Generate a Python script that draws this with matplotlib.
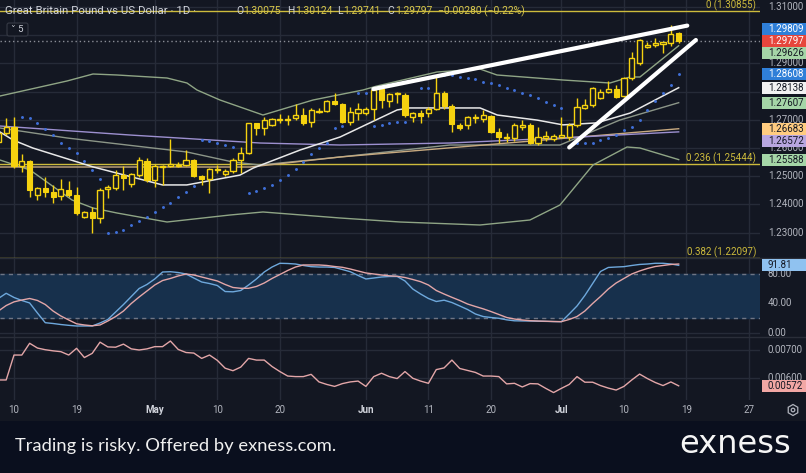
import matplotlib
matplotlib.use('Agg')
import matplotlib.pyplot as plt
import numpy as np
from matplotlib.patches import Rectangle, FancyBboxPatch, RegularPolygon, Circle

# ---------------- data ----------------
bar_idx = list(range(-2, 86))
opens = [1.2622, 1.2654, 1.2676, 1.2536, 1.2554, 1.2433, 1.2458, 1.2445, 1.2430, 1.2451,
         1.2432, 1.2354, 1.2374, 1.2351, 1.2454, 1.2457, 1.2504, 1.2471, 1.2504, 1.2555,
         1.2487, 1.2532, 1.2536, 1.2536, 1.2540, 1.2557, 1.2501, 1.2489, 1.2522, 1.2508,
         1.2520, 1.2557, 1.2581, 1.2688, 1.2670, 1.2682, 1.2699, 1.2699, 1.2705, 1.2717,
         1.2691, 1.2729, 1.2732, 1.2768, 1.2755, 1.2693, 1.2723, 1.2723, 1.2739, 1.2808,
         1.2767, 1.2790, 1.2788, 1.2709, 1.2725, 1.2723, 1.2738, 1.2794, 1.2750, 1.2682,
         1.2682, 1.2705, 1.2702, 1.2713, 1.2658, 1.2637, 1.2634, 1.2676, 1.2682, 1.2619,
         1.2637, 1.2631, 1.2640, 1.2640, 1.2682, 1.2743, 1.2752, 1.2776, 1.2800, 1.2809,
         1.2784, 1.2847, 1.2900, 1.2957, 1.2965, 1.2969, 1.2971, 1.30075]
highs = [1.2671, 1.2705, 1.2711, 1.2579, 1.2557, 1.2463, 1.2496, 1.2469, 1.2489, 1.2483,
         1.2463, 1.23777, 1.2392, 1.2457, 1.2469, 1.2522, 1.2536, 1.2510, 1.2569, 1.2563,
         1.2543, 1.2540, 1.2631, 1.2551, 1.2593, 1.2560, 1.2504, 1.2528, 1.2540, 1.2524,
         1.2563, 1.2605, 1.2690, 1.2690, 1.2709, 1.2705, 1.2721, 1.2717, 1.2756, 1.2741,
         1.2741, 1.2741, 1.2770, 1.2796, 1.2758, 1.2746, 1.2761, 1.2746, 1.2812, 1.2812,
         1.2796, 1.2800, 1.2794, 1.2729, 1.2735, 1.2746, 1.2853, 1.2803, 1.2755, 1.2688,
         1.2713, 1.2721, 1.2735, 1.2717, 1.2670, 1.2652, 1.2688, 1.2699, 1.2688, 1.2673,
         1.2661, 1.2650, 1.2709, 1.2688, 1.2776, 1.2773, 1.2815, 1.2808, 1.2839, 1.2823,
         1.2853, 1.2941, 1.2985, 1.2977, 1.2989, 1.2977, 1.3036, 1.30124]
lows = [1.2611, 1.2646, 1.2528, 1.2516, 1.2427, 1.2416, 1.2427, 1.2406, 1.2416, 1.2427,
        1.2362, 1.2351, 1.2300, 1.2333, 1.2422, 1.2451, 1.2451, 1.2463, 1.2496, 1.2481,
        1.2463, 1.2469, 1.2532, 1.2532, 1.2536, 1.2496, 1.2469, 1.2441, 1.2512, 1.2501,
        1.2512, 1.2510, 1.2579, 1.2646, 1.2646, 1.2678, 1.2688, 1.2682, 1.2699, 1.2682,
        1.2676, 1.2723, 1.2729, 1.2752, 1.2688, 1.2682, 1.2699, 1.2717, 1.2699, 1.2741,
        1.2746, 1.2761, 1.2711, 1.2693, 1.2688, 1.2709, 1.2735, 1.2737, 1.2658, 1.2664,
        1.2666, 1.2688, 1.2693, 1.2652, 1.2619, 1.2622, 1.2626, 1.2664, 1.2614, 1.2611,
        1.2626, 1.2626, 1.2634, 1.2628, 1.2676, 1.2737, 1.2746, 1.2773, 1.2794, 1.2776,
        1.2780, 1.2841, 1.2894, 1.2954, 1.2957, 1.2936, 1.2962, 1.29741]
closes = [1.2654, 1.2673, 1.2536, 1.2554, 1.2451, 1.2457, 1.2445, 1.2427, 1.2454, 1.2433,
          1.2371, 1.2373, 1.2351, 1.2451, 1.2461, 1.2504, 1.2493, 1.2507, 1.2557, 1.2487,
          1.2536, 1.2536, 1.2543, 1.2541, 1.2557, 1.2501, 1.2489, 1.2524, 1.2527, 1.2520,
          1.2557, 1.2583, 1.2688, 1.2670, 1.2699, 1.2702, 1.2703, 1.2703, 1.2717, 1.2688,
          1.2735, 1.2732, 1.2768, 1.2756, 1.2693, 1.2727, 1.2738, 1.2739, 1.2806, 1.2770,
          1.2790, 1.2794, 1.2717, 1.2723, 1.2713, 1.2737, 1.2794, 1.2749, 1.2685, 1.2670,
          1.2709, 1.2711, 1.2716, 1.2658, 1.2640, 1.2640, 1.2682, 1.2682, 1.2619, 1.2640,
          1.2643, 1.2644, 1.2646, 1.2682, 1.2746, 1.2752, 1.2812, 1.2800, 1.2808, 1.2782,
          1.2847, 1.2918, 1.2983, 1.2965, 1.2971, 1.2975, 1.3004, 1.29797]

# overlays (bar index, price)
ma_white_x = [-1.8, -0.1, 2.4, 10.1, 19.0, 22.1, 28.9, 30.6, 36.6, 41.7, 45.5, 49.0, 50.6, 56.6, 59.6, 61.8, 66.9, 70.2, 74.5, 78.8, 85.0]
ma_white_y = [1.2657, 1.2628, 1.2600, 1.2533, 1.2469, 1.2469, 1.2504, 1.2529, 1.2593, 1.2639, 1.2689, 1.2735, 1.2742, 1.2742, 1.2742, 1.2717, 1.2699, 1.2682, 1.2689, 1.2724, 1.28138]
bb_up_x = [-1.79, 6.78, 10.10, 13.17, 19.57, 22.12, 23.40, 26.34, 31.84, 38.24, 44.63, 46.42,
           54.09, 59.59, 61.76, 70.20, 76.21, 78.77, 80.05, 85.0]
bb_up_y = [1.27844, 1.28376, 1.28624, 1.28589, 1.28482, 1.28305, 1.28057, 1.27702, 1.27170,
           1.27702, 1.28057, 1.28199, 1.28695, 1.28801, 1.28589, 1.28411, 1.28305, 1.28518,
           1.28518, 1.29626]
bb_lo_x = [-1.79, 2.05, 7.42, 10.10, 13.17, 19.57, 27.62, 31.84, 41.69, 49.36, 59.59, 65.98,
           69.82, 74.04, 78.39, 80.05, 85.0]
bb_lo_y = [1.25574, 1.25220, 1.24156, 1.23872, 1.23695, 1.23376, 1.23624, 1.23731, 1.23518,
           1.23376, 1.23270, 1.23447, 1.23979, 1.25397, 1.26035, 1.26000, 1.25588]
bb_mid_x = [-1.79, 6.78, 22.12, 28.0, 31.46, 41.69, 55.75, 69.82, 77.49, 85.0]
bb_mid_y = [1.26709, 1.26355, 1.25858, 1.25504, 1.25397, 1.25681, 1.26106, 1.26106, 1.26993, 1.27607]
ma_tan_x = [-1.79, 30.2, 41.69, 85.0]
ma_tan_y = [1.25326, 1.25326, 1.25681, 1.26683]
ma_purple_x = [-1.79, 14.8, 31.46, 41.69, 55.75, 69.82, 85.0]
ma_purple_y = [1.2678, 1.26461, 1.26177, 1.26106, 1.26177, 1.26355, 1.26572]
psar_y = [np.nan, np.nan, np.nan, 1.27082, 1.27053, 1.26887, 1.26663, 1.26461, 1.26195, 1.25989,
          1.25812, 1.25539, 1.25220, 1.24890, 1.22975, 1.23004, 1.23103, 1.23252, 1.23394, 1.23553,
          1.23713, 1.23897, 1.24050, 1.24252, 1.24450, 1.24635, 1.26273, 1.26248, 1.26167, 1.26106,
          1.26018, np.nan, 1.24415, 1.24475, 1.24571, 1.24688, 1.24865, 1.25043, 1.25245, 1.25514,
          1.25787, 1.25989, 1.26167, 1.26699, 1.26780, np.nan, 1.27940, 1.27940, 1.26780, 1.26816,
          1.26887, 1.26933, 1.26933, np.nan, 1.28117, 1.28117, np.nan, 1.28589, 1.28589, 1.28528,
          1.28472, 1.28436, 1.28351, 1.28294, 1.28234, 1.28117, 1.28057, 1.27940, 1.27879, 1.27762,
          1.27642, 1.27525, 1.27408, np.nan, 1.26177, 1.26177, 1.26177, 1.26284, 1.26355, 1.26461,
          1.26638, 1.26745, 1.26993, 1.27348, 1.27667, 1.27961, 1.28234, 1.28608]

stoch_k = [46.6, 53.7, 48.0, 43.9, 40.5, 26.8, 13.6, 12.5, 11.1, 10.0, 9.1, 9.1, 9.1, 13.2,
           18.0, 28.2, 38.4, 49.3, 60.2, 65.7, 73.2, 82.7, 83.1, 82.0, 80.0, 74.5, 69.1, 67.0,
           64.3, 56.1, 55.7, 57.5, 65.0, 73.2, 82.7, 89.5, 94.6, 94.3, 93.6, 91.6, 90.0, 89.5,
           89.5, 88.9, 86.1, 83.1, 78.0, 73.2, 74.5, 75.9, 76.6, 76.6, 70.5, 59.5, 52.7, 46.6,
           42.5, 44.3, 41.1, 36.4, 31.6, 25.5, 22.0, 20.7, 19.6, 17.5, 16.2, 16.0, 15.9, 15.6,
           15.4, 15.2, 15.0, 25.5, 36.4, 50.7, 67.0, 83.4, 88.9, 89.5, 90.0, 91.6, 93.0, 93.6,
           94.6, 94.6, 93.6, 91.81]
stoch_d = [29.5, 37.0, 42.0, 44.5, 46.6, 43.9, 38.4, 29.5, 22.7, 17.3, 12.1, 10.5, 9.4, 10.5,
           15.9, 22.0, 29.5, 39.8, 48.6, 56.8, 65.0, 71.1, 73.9, 77.3, 80.0, 78.6, 75.9, 73.2,
           70.5, 65.7, 61.6, 60.5, 60.5, 63.0, 67.7, 73.9, 79.3, 84.8, 89.5, 92.3, 92.3, 92.3,
           91.6, 90.2, 89.1, 86.8, 84.1, 81.4, 80.0, 78.6, 77.5, 76.9, 75.2, 72.5, 69.5, 65.0,
           57.5, 52.7, 48.2, 43.9, 39.1, 35.7, 32.5, 28.8, 24.8, 20.7, 18.6, 17.3, 16.3, 15.9,
           15.6, 15.2, 15.0, 18.0, 22.0, 29.5, 39.8, 49.3, 59.5, 67.7, 73.9, 80.0, 84.1, 87.5,
           90.2, 91.6, 93.0, 93.6]
atr = [0.00593, 0.00593, 0.00682, 0.00682, 0.00724, 0.00707, 0.00701, 0.00697, 0.00694, 0.00682,
       0.00706, 0.00673, 0.00688, 0.00728, 0.00711, 0.00710, 0.00721, 0.00704, 0.00700, 0.00704,
       0.00712, 0.00712, 0.00732, 0.00702, 0.00691, 0.00689, 0.00670, 0.00682, 0.00663, 0.00635,
       0.00626, 0.00639, 0.00670, 0.00664, 0.00664, 0.00641, 0.00623, 0.00607, 0.00605, 0.00605,
       0.00613, 0.00586, 0.00577, 0.00570, 0.00580, 0.00586, 0.00589, 0.00570, 0.00605, 0.00617,
       0.00605, 0.00598, 0.00623, 0.00599, 0.00589, 0.00581, 0.00630, 0.00636, 0.00664, 0.00634,
       0.00627, 0.00620, 0.00607, 0.00607, 0.00605, 0.00579, 0.00581, 0.00568, 0.00580, 0.00579,
       0.00563, 0.00548, 0.00563, 0.00577, 0.00605, 0.00585, 0.00585, 0.00573, 0.00564, 0.00557,
       0.00570, 0.00593, 0.00614, 0.00598, 0.00584, 0.00573, 0.00586, 0.00572]

fib_levels = [0.0, 0.236, 0.382]
fib_prices = [1.30855, 1.25444, 1.22097]
wedge_upper = ([45.95, 86.1], [1.2809, 1.3034])
wedge_lower = ([71.0, 87.2], [1.2602, 1.2983])

x_tick_idx = [0, 8, 18, 26, 34, 45, 53, 61, 70, 78, 86, 94]
x_tick_lbl = ['10', '19', 'May', '10', '20', 'Jun', '11', '20', 'Jul', '10', '19', '27']
price_ticks = [1.31, 1.30, 1.29, 1.28, 1.27, 1.26, 1.25, 1.24, 1.23]
stoch_ticks = [80, 40, 0]
atr_ticks = [0.007, 0.006]

# price axis tags: (value, face, text colour)
price_tags = [(1.29809, '#2f7fd8', 'white'), (1.29797, '#e6463c', 'white'),
              (1.29626, '#a5d6a7', '#131722'), (1.28608, '#2f7fd8', 'white'),
              (1.28138, '#f2f2f2', '#131722'), (1.27607, '#a5d6a7', '#131722'),
              (1.26683, '#ffcc80', '#131722'), (1.26572, '#b8a6e0', '#131722'),
              (1.25588, '#a5d6a7', '#131722')]

# ---------------- style ----------------
BG = '#131722'
GRID = '#262b38'
TXT = '#b2b5be'
YEL = '#f5d20f'
FIB = '#cdbb3c'
FONT = ['Roboto', 'DejaVu Sans']

W, H = 806, 473
fig = plt.figure(figsize=(W / 100, H / 100), dpi=100)
fig.patch.set_facecolor(BG)

PLOT_R = 760


def add_ax(y0, y1):
    a = fig.add_axes([0, 1 - y1 / H, PLOT_R / W, (y1 - y0) / H])
    a.set_facecolor(BG)
    for s in a.spines.values():
        s.set_visible(False)
    a.tick_params(left=False, right=False, bottom=False, top=False,
                  labelleft=False, labelbottom=False)
    a.set_xlim(-1.79, 95.4)
    for xi in x_tick_idx:
        a.axvline(xi, color=GRID, lw=1, zorder=0)
    return a


ax = add_ax(0, 258)
ax.set_ylim(1.220993, 1.312482)
ax2 = add_ax(258, 337)
ax2.set_ylim(-5.9, 101.8)
ax3 = add_ax(337, 400)
ax3.set_ylim(0.0052143, 0.0074643)

for p in price_ticks:
    ax.axhline(p, color=GRID, lw=1, zorder=0)
for v in [80, 40, 0]:
    ax2.axhline(v, color=GRID, lw=1, zorder=0)
for v in atr_ticks:
    ax3.axhline(v, color=GRID, lw=1, zorder=0)

# ---- main pane ----
x = np.array(bar_idx, dtype=float)
o = np.array(opens); h = np.array(highs); l = np.array(lows); c = np.array(closes)
bw = 0.66
for xi, oi, hi, li, ci in zip(x, o, h, l, c):
    top, bot = max(oi, ci), min(oi, ci)
    ax.plot([xi, xi], [li, hi], color=YEL, lw=1, zorder=5, solid_capstyle='butt')
    hgt = max(top - bot, 0.00012)
    if ci >= oi:
        ax.add_patch(Rectangle((xi - bw / 2, bot), bw, hgt, facecolor=BG,
                               edgecolor=YEL, lw=1, zorder=6))
    else:
        ax.add_patch(Rectangle((xi - bw / 2, bot), bw, hgt, facecolor=YEL,
                               edgecolor=YEL, lw=0.8, zorder=6))

ax.plot(bb_up_x, bb_up_y, color='#8fa585', lw=1, zorder=3)
ax.plot(bb_lo_x, bb_lo_y, color='#8fa585', lw=1, zorder=3)
ax.plot(bb_mid_x, bb_mid_y, color='#8c9688', lw=1, zorder=3)
ax.plot(ma_tan_x, ma_tan_y, color='#c8aa80', lw=1, zorder=3)
ax.plot(ma_purple_x, ma_purple_y, color='#9d90d0', lw=1, zorder=3)
ax.plot(ma_white_x, ma_white_y, color='#e8e8e8', lw=1.1, zorder=3)
ax.scatter(x, psar_y, s=4.5, color='#3f6fd8', zorder=4, linewidths=0)

for lvl, fp in zip(fib_levels, fib_prices):
    ax.axhline(fp, color=FIB, lw=1, zorder=2)
    lbl = ('0' if lvl == 0 else f'{lvl}') + f' ({fp:.5f})'
    ax.text(0.995, fp, lbl, transform=ax.get_yaxis_transform(), ha='right',
            va='bottom', color=FIB, fontsize=7, family=FONT, zorder=8)
ax.axhline(closes[-1], color='#8a8d96', lw=1, ls=(0, (1, 2)), zorder=2)

ax.plot(*wedge_upper, color='white', lw=3, solid_capstyle='round', zorder=9)
ax.plot(*wedge_lower, color='white', lw=3, solid_capstyle='round', zorder=9)

# ---- stochastic ----
ax2.axhspan(20, 80, color='#17304c', zorder=0)
ax2.axhline(80, color='#6e7585', lw=1, ls=(0, (3, 3)), zorder=1)
ax2.axhline(20, color='#6e7585', lw=1, ls=(0, (3, 3)), zorder=1)
ax2.plot(x, stoch_k, color='#6ea8dc', lw=1, zorder=3)
ax2.plot(x, stoch_d, color='#e3a6a8', lw=1, zorder=3)

# ---- atr ----
ax3.plot(x, atr, color='#e3a6a8', lw=1, zorder=3)

# ---------------- overlay in pixel space ----------------
ov = fig.add_axes([0, 0, 1, 1])
ov.set_xlim(0, W); ov.set_ylim(H, 0); ov.axis('off')
ov.patch.set_alpha(0)

for yy in [258, 337]:
    ov.plot([0, W], [yy, yy], color='#2a2e39', lw=1)


def ypix(a, v):
    return H - a.transData.transform((0, v))[1]


def xpix(a, v):
    return a.transData.transform((v, 0))[0]


fs_axis = 7

# price tags with overlap resolution around last price
tags = sorted(price_tags, key=lambda t: -t[0])
ys = [ypix(ax, t[0]) for t in tags]
last_i = [t[0] for t in tags].index(closes[-1])
for k in range(last_i - 1, -1, -1):
    ys[k] = min(ys[k], ys[k + 1] - 12)
for k in range(last_i + 1, len(ys)):
    ys[k] = max(ys[k], ys[k - 1] + 12)

for p in price_ticks:
    yp = ypix(ax, p)
    # grid labels whose centre sits under a tag are hidden (as in TradingView)
    if any(abs(yp - ty) < 6.5 for ty in ys):
        continue
    ov.text(768, yp, f'{p:.5f}', color=TXT, fontsize=fs_axis, family=FONT,
            va='center', ha='left')
for v in stoch_ticks:
    ov.text(768, ypix(ax2, v), f'{v:.2f}', color=TXT, fontsize=fs_axis, family=FONT,
            va='center', ha='left')
for v in atr_ticks:
    ov.text(768, ypix(ax3, v), f'{v:.5f}', color=TXT, fontsize=fs_axis, family=FONT,
            va='center', ha='left')

for (val, face, tc), yy in zip(tags, ys):
    ov.add_patch(Rectangle((762, yy - 6), 44, 12, facecolor=face, edgecolor='none', zorder=10))
    ov.text(768, yy, f'{val:.5f}', color=tc, fontsize=fs_axis, family=FONT,
            va='center', ha='left', zorder=11)

yk = ypix(ax2, stoch_k[-1])
ov.add_patch(Rectangle((762, yk - 6), 44, 12, facecolor='#90c2f0', edgecolor='none', zorder=10))
ov.text(768, yk, f'{stoch_k[-1]:.2f}', color='#131722', fontsize=fs_axis, family=FONT,
        va='center', ha='left', zorder=11)
ya = ypix(ax3, atr[-1])
ov.add_patch(Rectangle((762, ya - 6), 44, 12, facecolor='#f2a7a4', edgecolor='none', zorder=10))
ov.text(768, ya, f'{atr[-1]:.5f}', color='#131722', fontsize=fs_axis, family=FONT,
        va='center', ha='left', zorder=11)

# x axis labels
for xi, lb in zip(x_tick_idx, x_tick_lbl):
    bold = lb in ('May', 'Jun', 'Jul')
    ov.text(xpix(ax, xi), 410, lb, color='#d1d4dc' if bold else TXT, fontsize=fs_axis,
            family=FONT, ha='center', va='center', fontweight='bold' if bold else 'normal')
ov.add_patch(RegularPolygon((793, 410), 6, radius=5.5, orientation=0, facecolor='none',
                            edgecolor=TXT, lw=0.9))
ov.add_patch(Circle((793, 410), 1.8, facecolor='none', edgecolor=TXT, lw=0.9))

# title / legend
ov.text(5, 11, 'Great Britain Pound vs US Dollar \u00b7 1D \u00b7', color='#d1d4dc',
        fontsize=8.2, family=FONT, va='center', ha='left')
ohlc = [('O', 236), ('1.30075', 243), ('H', 287), ('1.30124', 295), ('L', 337),
        ('1.29741', 343), ('C', 387), ('1.29797', 395), ('\u22120.00280 (\u22120.22%)', 438)]
for s, xx in ohlc:
    col = '#d1d4dc' if s in 'OHLC' else '#d9c84a'
    ov.text(xx, 11, s, color=col, fontsize=7.4, family=FONT, va='center', ha='left')
ov.add_patch(FancyBboxPatch((7, 23), 21, 13, boxstyle='round,pad=0,rounding_size=2',
                            facecolor=BG, edgecolor='#363a45', lw=0.8))
ov.text(17.5, 29.5, '\u02c5 5', color='#d1d4dc', fontsize=6.8, family=FONT,
        ha='center', va='center')

# banner
ov.add_patch(Rectangle((0, 421), W, 52, facecolor='#0a0f1e', edgecolor='none', zorder=1))
ov.text(15, 446, 'Trading is risky. Offered by exness.com.', color='#f0f0f0', fontsize=13.2,
        family='Lato', va='center', ha='left', zorder=2)
ov.text(791, 444, 'exness', color='#f5f5f5', fontsize=23, family='DejaVu Sans',
        va='center', ha='right', zorder=2)

fig.savefig('out.png', dpi=100, facecolor=BG)
